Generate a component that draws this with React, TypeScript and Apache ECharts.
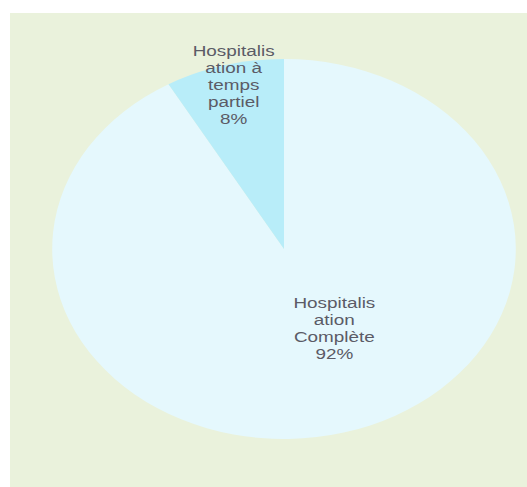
import React, { useEffect, useRef } from "react";
import * as echarts from "echarts";

const categories = ["Hospitalisation Complète", "Hospitalisation à temps partiel"];
const labelTexts = ["Hospitalis\nation\nComplète", "Hospitalis\nation à\ntemps\npartiel"];
const values = [91.7, 8.3];
const sliceColors = ["#e5f8fd", "#b8edf9"];

const SX = 1.22;
const INNER_W = 527 / SX;

export default function App() {
  const ref = useRef<HTMLDivElement>(null);
  useEffect(() => {
    if (!ref.current) return;
    const chart = echarts.init(ref.current, null, { renderer: "svg" });
    const total = values.reduce((a, b) => a + b, 0);
    chart.setOption({
      animation: false,
      series: [
        {
          type: "pie",
          center: [284 / SX, 249],
          radius: [0, 190],
          startAngle: 90,
          clockwise: true,
          silent: true,
          labelLine: { show: false },
          itemStyle: { borderWidth: 0 },
          label: {
            show: true,
            position: "inside",
            color: "#5b5b66",
            fontFamily: "Liberation Sans, Arial, sans-serif",
            fontSize: 15.5,
            lineHeight: 17,
            align: "center",
          },
          data: categories.map((name, i) => ({
            name,
            value: values[i],
            itemStyle: { color: sliceColors[i] },
            label: {
              formatter: () => `${labelTexts[i]}\n${Math.round((values[i] / total) * 100)}%`,
              offset: i === 0 ? [16, -15.5] : [-16, -70],
            },
          })),
        },
      ],
    });
    return () => chart.dispose();
  }, []);
  return (
    <div style={{ position: "absolute", left: 0, top: 0, width: 527, height: 487, overflow: "hidden", background: "#ffffff" }}>
      <div style={{ position: "absolute", left: 10, top: 13, right: 0, bottom: 0, background: "#eaf2dc" }} />
      <div
        ref={ref}
        style={{
          position: "absolute",
          left: 0,
          top: 0,
          width: INNER_W,
          height: 487,
          transform: `scaleX(${SX})`,
          transformOrigin: "0 0",
        }}
      />
    </div>
  );
}
